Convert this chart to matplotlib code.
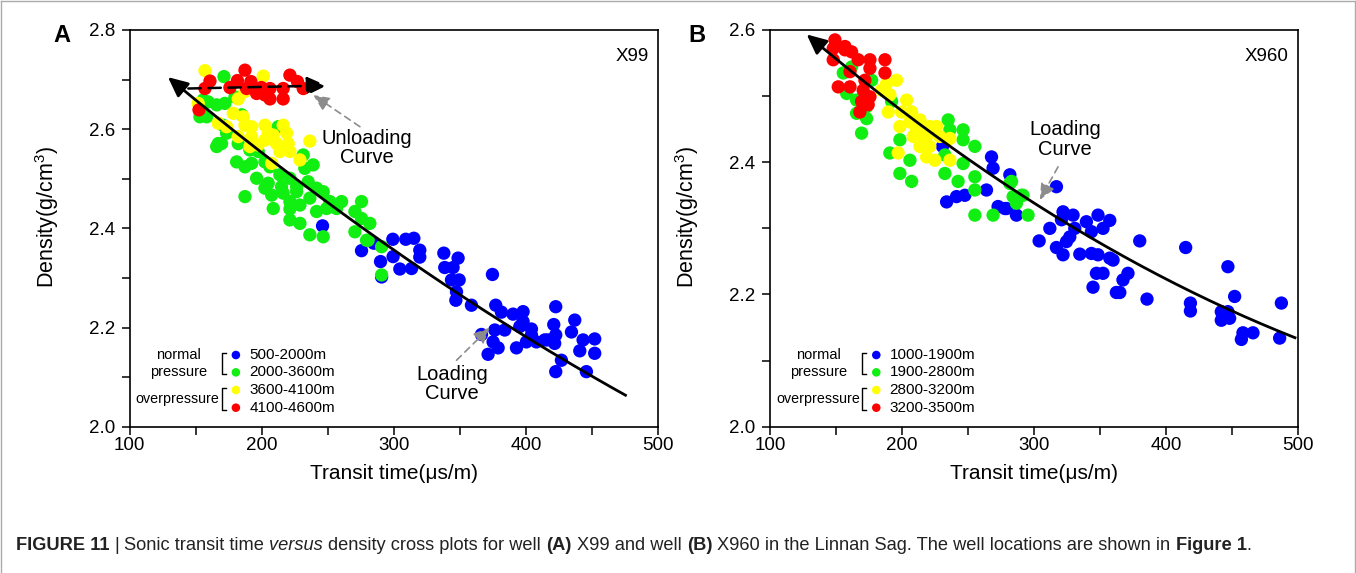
import matplotlib
matplotlib.use("Agg")
import matplotlib.pyplot as plt
import numpy as np
from matplotlib.ticker import FormatStrFormatter
from matplotlib.lines import Line2D

plt.rcParams['font.family'] = ['Liberation Sans', 'DejaVu Sans']
plt.rcParams['mathtext.fontset'] = 'custom'
plt.rcParams['mathtext.rm'] = 'Liberation Sans'
plt.rcParams['mathtext.it'] = 'Liberation Sans:italic'

# ---------------- data: panel A (well X99) ----------------
A_blue = [(246.1, 2.405), (275.6, 2.355), (284.9, 2.370), (299.3, 2.378), (309.1, 2.378),
          (290.0, 2.333), (299.5, 2.343), (304.6, 2.318), (315.2, 2.380), (319.7, 2.356),
          (319.7, 2.342), (313.5, 2.319), (337.9, 2.350), (348.7, 2.340), (338.6, 2.321),
          (344.9, 2.321), (343.7, 2.296), (349.5, 2.296), (347.5, 2.272), (347.0, 2.255),
          (358.8, 2.245), (374.7, 2.307), (377.2, 2.245), (381.5, 2.231), (390.3, 2.227),
          (397.9, 2.232), (397.9, 2.212), (404.2, 2.197), (395.4, 2.202), (422.6, 2.242),
          (421.1, 2.206), (437.0, 2.215), (434.5, 2.191), (366.4, 2.186), (376.5, 2.195),
          (384.0, 2.195), (375.2, 2.171), (379.0, 2.159), (371.4, 2.146), (392.9, 2.159),
          (400.4, 2.171), (408.0, 2.171), (414.3, 2.175), (422.6, 2.185), (421.8, 2.168),
          (443.3, 2.175), (452.1, 2.177), (440.8, 2.153), (452.1, 2.148), (426.9, 2.134),
          (422.6, 2.111), (445.8, 2.111), (416.6, 2.175), (404.2, 2.185), (290.8, 2.302)]
A_green = [(171.5, 2.706), (179.8, 2.665), (159.6, 2.655), (166.0, 2.649), (172.2, 2.652),
           (158.4, 2.625), (155.8, 2.659), (184.9, 2.629), (212.6, 2.605), (169.7, 2.571),
           (167.2, 2.571), (182.3, 2.571), (191.1, 2.558), (197.4, 2.555), (181.1, 2.534),
           (192.4, 2.531), (202.5, 2.534), (206.3, 2.524), (196.2, 2.501), (205.0, 2.491),
           (213.8, 2.508), (215.1, 2.484), (221.4, 2.501), (226.5, 2.484), (231.5, 2.548),
           (239.0, 2.528), (232.7, 2.521), (235.2, 2.494), (241.6, 2.481), (246.6, 2.474),
           (251.7, 2.454), (260.5, 2.454), (187.4, 2.464), (207.6, 2.467), (208.8, 2.440),
           (221.4, 2.454), (221.4, 2.439), (229.0, 2.447), (236.5, 2.461), (241.6, 2.434),
           (221.4, 2.417), (229.0, 2.410), (236.5, 2.387), (246.6, 2.383), (216.3, 2.471),
           (202.5, 2.481), (173.5, 2.592), (170.7, 2.608), (226.5, 2.474), (249.2, 2.440),
           (256.7, 2.440), (275.6, 2.454), (270.6, 2.434), (275.6, 2.420), (281.9, 2.410),
           (270.6, 2.393), (279.4, 2.376), (290.8, 2.363), (290.8, 2.306), (280.6, 2.376),
           (153.3, 2.625), (166.0, 2.565), (187.4, 2.524)]
A_yellow = [(157.1, 2.718), (201.2, 2.707), (182.3, 2.661), (187.4, 2.676), (152.0, 2.652),
            (167.2, 2.612), (173.5, 2.605), (186.1, 2.625), (187.4, 2.608), (192.4, 2.605),
            (182.3, 2.585), (192.4, 2.585), (202.5, 2.608), (205.0, 2.592), (202.5, 2.578),
            (208.8, 2.588), (211.3, 2.571), (218.9, 2.592), (220.1, 2.571), (213.8, 2.555),
            (221.4, 2.555), (229.0, 2.538), (207.6, 2.531), (236.5, 2.576), (197.4, 2.568),
            (191.1, 2.565), (178.5, 2.632), (216.3, 2.608)]
A_red = [(187.4, 2.719), (160.9, 2.697), (157.1, 2.682), (152.6, 2.639), (176.0, 2.684),
         (181.7, 2.698), (191.9, 2.696), (199.8, 2.684), (196.2, 2.672), (206.3, 2.682),
         (206.3, 2.661), (216.3, 2.661), (216.3, 2.682), (221.4, 2.709), (227.1, 2.696),
         (231.5, 2.682), (188.6, 2.682), (202.5, 2.669)]
A_loading = [(129.1, 2.705), (227.7, 2.497), (266.8, 2.420), (276.8, 2.397),
             (312.2, 2.336), (476.3, 2.062)]
A_unloading = [(144.5, 2.682), (249.2, 2.688)]
A_labels = ["500-2000m", "2000-3600m", "3600-4100m", "4100-4600m"]

# ---------------- data: panel B (well X960) ----------------
B_blue = [(267.8, 2.408), (269.0, 2.391), (281.7, 2.381), (233.8, 2.340), (241.3, 2.348),
          (247.6, 2.350), (264.0, 2.358), (272.8, 2.333), (279.2, 2.330), (286.7, 2.320),
          (317.0, 2.363), (322.0, 2.325), (329.6, 2.320), (230.7, 2.424), (277.9, 2.330),
          (312.0, 2.300), (303.9, 2.281), (320.8, 2.313), (339.7, 2.310), (348.5, 2.320),
          (357.4, 2.312), (352.3, 2.300), (343.5, 2.295), (330.9, 2.300), (327.1, 2.287),
          (324.6, 2.280), (317.0, 2.271), (322.0, 2.260), (334.7, 2.261), (343.5, 2.262),
          (348.5, 2.260), (357.4, 2.255), (359.9, 2.252), (380.1, 2.281), (414.9, 2.271),
          (446.9, 2.242), (347.3, 2.232), (352.3, 2.232), (371.2, 2.232), (367.4, 2.222),
          (344.7, 2.211), (362.4, 2.203), (365.0, 2.203), (385.6, 2.193), (418.5, 2.187),
          (418.5, 2.175), (452.0, 2.197), (487.4, 2.187), (441.9, 2.174), (446.9, 2.174),
          (441.9, 2.161), (448.2, 2.164), (458.3, 2.142), (465.9, 2.142), (457.1, 2.132),
          (486.1, 2.134)]
B_green = [(155.5, 2.535), (161.8, 2.544), (177.0, 2.524), (158.1, 2.504), (165.6, 2.494),
           (173.2, 2.484), (165.6, 2.474), (173.2, 2.466), (169.4, 2.444), (192.1, 2.492),
           (198.4, 2.434), (190.8, 2.414), (198.4, 2.383), (207.3, 2.371), (206.0, 2.403),
           (235.0, 2.464), (236.3, 2.449), (246.3, 2.449), (246.3, 2.434), (255.2, 2.424),
           (246.3, 2.398), (232.5, 2.411), (232.5, 2.383), (242.5, 2.371), (255.2, 2.378),
           (255.2, 2.358), (255.2, 2.320), (269.0, 2.320), (283.0, 2.371), (284.2, 2.348),
           (290.5, 2.350), (286.7, 2.338), (295.5, 2.320), (224.9, 2.449), (281.7, 2.368),
           (291.7, 2.350)]
B_yellow = [(188.3, 2.519), (195.9, 2.524), (184.6, 2.509), (190.8, 2.502), (203.5, 2.494),
            (189.6, 2.476), (199.7, 2.476), (207.3, 2.476), (206.0, 2.461), (198.4, 2.454),
            (213.6, 2.464), (211.0, 2.449), (221.1, 2.454), (226.2, 2.454), (218.6, 2.439),
            (228.7, 2.439), (236.3, 2.436), (213.6, 2.424), (221.1, 2.424), (218.6, 2.408),
            (224.9, 2.403), (236.3, 2.403), (197.1, 2.414), (208.5, 2.439), (213.6, 2.434)]
B_red = [(149.2, 2.585), (147.9, 2.572), (156.8, 2.575), (161.8, 2.567), (147.9, 2.555),
         (166.8, 2.555), (175.7, 2.555), (175.7, 2.542), (187.1, 2.555), (187.1, 2.535),
         (160.6, 2.537), (151.7, 2.514), (160.6, 2.514), (171.9, 2.524), (170.6, 2.509),
         (175.7, 2.499), (169.4, 2.492), (174.4, 2.487), (168.1, 2.476), (156.8, 2.570)]
B_loading = [(127.8, 2.595), (137.9, 2.577), (195.9, 2.479), (238.8, 2.419),
             (289.3, 2.358), (349.8, 2.277), (425.5, 2.197), (498.7, 2.134)]
B_labels = ["1000-1900m", "1900-2800m", "2800-3200m", "3200-3500m"]

COLORS = ["#0000FF", "#11EE11", "#FFFF00", "#FF0000"]
W, H = 1356, 573

fig = plt.figure(figsize=(W / 100, H / 100), dpi=100)

# figure frame (caption box)
fig.add_artist(Line2D([0.0007, 0.0007], [0, 0.999], transform=fig.transFigure, color="#aaaaaa", lw=1))
fig.add_artist(Line2D([0.9993, 0.9993], [0, 0.999], transform=fig.transFigure, color="#aaaaaa", lw=1))
fig.add_artist(Line2D([0.0007, 0.9993], [0.999, 0.999], transform=fig.transFigure, color="#aaaaaa", lw=1))

axA = fig.add_axes([129.5 / W, 146.3 / H, 528.5 / W, 396.7 / H])
axB = fig.add_axes([770 / W, 146.3 / H, 528 / W, 396.7 / H])


def style_axes(ax, ymax):
    ax.set_xlim(100, 500)
    ax.set_ylim(2.0, ymax)
    ax.set_xticks([100, 200, 300, 400, 500])
    ax.set_xticks([150, 250, 350, 450], minor=True)
    ax.set_yticks(np.round(np.arange(2.0, ymax + 0.01, 0.2), 1))
    ax.set_yticks(np.round(np.arange(2.1, ymax, 0.2), 1), minor=True)
    ax.yaxis.set_major_formatter(FormatStrFormatter('%.1f'))
    ax.tick_params(which='both', direction='out', length=5.5, width=1.1,
                   top=False, right=False, labelsize=13.5, colors='black')
    ax.tick_params(axis='x', pad=2)
    ax.tick_params(axis='y', pad=5)
    for s in ax.spines.values():
        s.set_linewidth(1.2)
    ax.set_xlabel("Transit time(μs/m)", fontsize=15)
    ax.set_ylabel("Density(g/cm$^3$)", fontsize=15.5)
    ax.xaxis.set_label_coords(0.5, -0.095)
    ax.yaxis.set_label_coords(-0.13, 0.53)


def scatter_series(ax, series):
    for pts, c in zip(series, COLORS):
        arr = np.array(pts)
        ax.scatter(arr[:, 0], arr[:, 1], s=92, color=c, edgecolors='none', zorder=2)


def loading_curve(ax, pts):
    arr = np.array(pts)
    coef = np.polyfit(arr[:, 0], arr[:, 1], 2)
    xs = np.linspace(arr[:, 0].min(), arr[:, 0].max(), 200)
    ys = np.polyval(coef, xs)
    ax.plot(xs[3:], ys[3:], color='black', lw=2.0, zorder=4, solid_capstyle='butt')
    ax.annotate("", xy=(xs[0], ys[0]), xytext=(xs[6], ys[6]),
                arrowprops=dict(arrowstyle="-|>,head_length=0.6,head_width=0.28",
                                mutation_scale=20, color='black', lw=2.0,
                                shrinkA=0, shrinkB=0), zorder=5)


def gray_arrow(ax, tail, tip):
    ax.annotate("", xy=tip, xytext=tail,
                arrowprops=dict(arrowstyle="-|>,head_length=0.55,head_width=0.25",
                                mutation_scale=18, color='#8c8c8c', lw=1.2,
                                linestyle=(0, (4, 3)), shrinkA=0, shrinkB=0), zorder=5)


def legend_block(ax, labels, dx=0.0):
    rows = [0.1807, 0.137, 0.0925, 0.0479]
    for yy, c, lab in zip(rows, COLORS, labels):
        ax.scatter([0.2013 + dx], [yy], s=38, color=c, edgecolors='none',
                   transform=ax.transAxes, clip_on=False, zorder=6)
        ax.text(0.2265 + dx, yy, lab, transform=ax.transAxes, fontsize=11,
                va='center', ha='left')
    ax.text(0.092 + dx, 0.1807, "normal", transform=ax.transAxes, fontsize=10.5,
            ha='center', va='center')
    ax.text(0.092 + dx, 0.1386, "pressure", transform=ax.transAxes, fontsize=10.5,
            ha='center', va='center')
    ax.text(0.170 + dx, 0.0703, "overpressure", transform=ax.transAxes, fontsize=10.3,
            ha='right', va='center')
    for top, bot in [(0.186, 0.133), (0.098, 0.043)]:
        xv = 0.1745 + dx
        ax.add_line(Line2D([xv + 0.008, xv, xv, xv + 0.008], [top, top, bot, bot],
                           transform=ax.transAxes, color='black', lw=1.0, clip_on=False))


# ---------------- panel A ----------------
style_axes(axA, 2.8)
scatter_series(axA, [A_blue, A_green, A_yellow, A_red])
loading_curve(axA, A_loading)
ua = np.array(A_unloading)
axA.annotate("", xy=(ua[1, 0], ua[1, 1]), xytext=(ua[0, 0], ua[0, 1]),
             arrowprops=dict(arrowstyle="-|>,head_length=0.6,head_width=0.28",
                             mutation_scale=20, color='black', lw=1.8,
                             linestyle=(0, (5, 3)), shrinkA=0, shrinkB=0), zorder=5)
gray_arrow(axA, (274.4, 2.605), (239.0, 2.669))
axA.text(279.6, 2.562, "Unloading\nCurve", fontsize=14.5, ha='center', va='center',
         linespacing=1.05, zorder=6)
gray_arrow(axA, (347.5, 2.134), (372.7, 2.200))
axA.text(343.9, 2.086, "Loading\nCurve", fontsize=14.5, ha='center', va='center',
         linespacing=1.05, zorder=6)
axA.text(0.982, 0.932, "X99", transform=axA.transAxes, fontsize=13.5, ha='right', va='center')
legend_block(axA, A_labels)

# ---------------- panel B ----------------
style_axes(axB, 2.6)
scatter_series(axB, [B_blue, B_green, B_yellow, B_red])
loading_curve(axB, B_loading)
gray_arrow(axB, (318.2, 2.393), (304.4, 2.343))
axB.text(323.3, 2.434, "Loading\nCurve", fontsize=14.5, ha='center', va='center',
         linespacing=1.05, zorder=6)
axB.text(0.982, 0.932, "X960", transform=axB.transAxes, fontsize=13.5, ha='right', va='center')
legend_block(axB, B_labels, dx=0.0)

fig.text(62 / W, 1 - 35 / H, "A", fontsize=17, fontweight='bold', ha='center', va='center')
fig.text(697 / W, 1 - 35 / H, "B", fontsize=17, fontweight='bold', ha='center', va='center')

# ---------------- caption ----------------
pieces = [("FIGURE 11", 'bold', 'normal', True),
          ("|", 'normal', 'normal', True),
          ("Sonic transit time", 'normal', 'normal', True),
          ("versus", 'normal', 'italic', True),
          ("density cross plots for well", 'normal', 'normal', True),
          ("(A)", 'bold', 'normal', True),
          ("X99 and well", 'normal', 'normal', True),
          ("(B)", 'bold', 'normal', True),
          ("X960 in the Linnan Sag. The well locations are shown in", 'normal', 'normal', True),
          ("Figure 1", 'bold', 'normal', False),
          (".", 'normal', 'normal', False)]


def layout_caption(fs, draw=True):
    fig.canvas.draw()
    r = fig.canvas.get_renderer()
    t1 = fig.text(0, 0, "xx", fontsize=fs)
    t2 = fig.text(0, 0, "x x", fontsize=fs)
    sp = t2.get_window_extent(r).width - t1.get_window_extent(r).width
    t1.remove(); t2.remove()
    x = 16.0
    made = []
    for s, w, st, space in pieces:
        t = fig.text(x / W, 1 - 545 / H, s, fontsize=fs, fontweight=w, fontstyle=st,
                     ha='left', va='center', color='#222222')
        x += t.get_window_extent(r).width
        if space:
            x += sp
        made.append(t)
    if not draw:
        for t in made:
            t.remove()
    return x


end = layout_caption(12, draw=False)
fs = 12 * (1255 - 16) / (end - 16)
layout_caption(fs, draw=True)

fig.savefig("out.png", dpi=100)
